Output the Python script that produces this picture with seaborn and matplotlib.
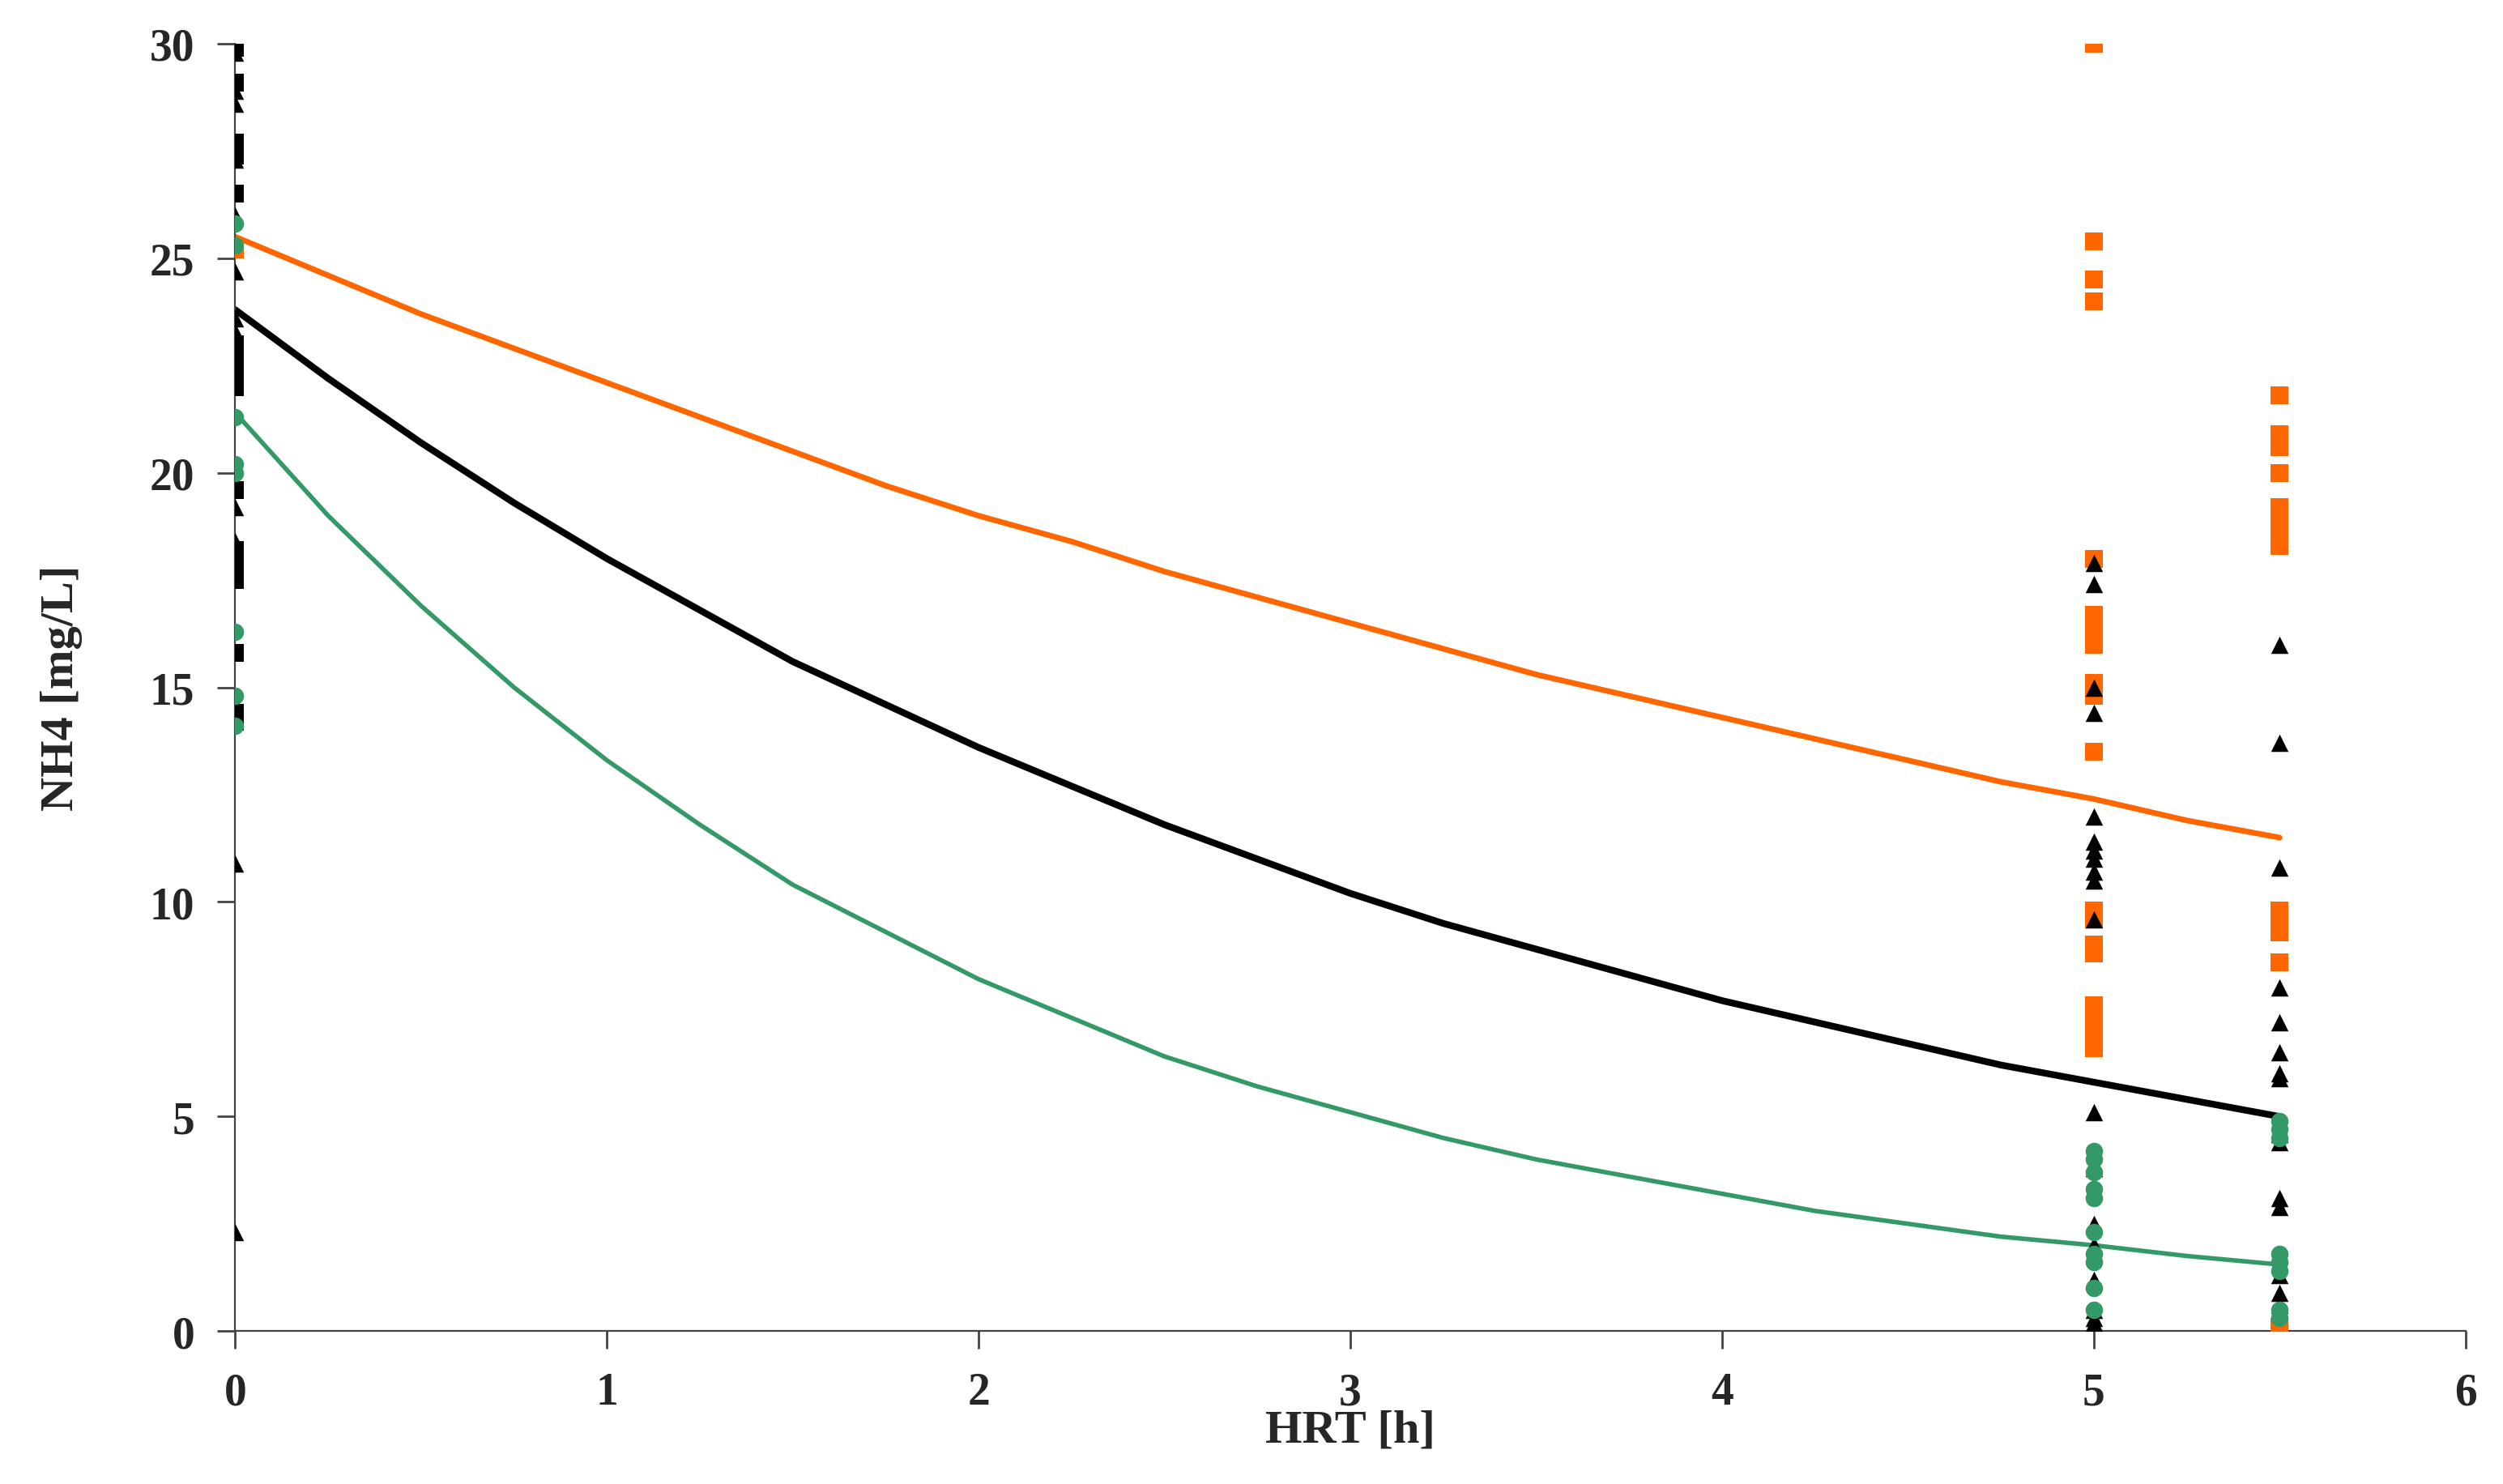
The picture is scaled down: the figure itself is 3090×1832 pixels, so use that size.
import matplotlib
matplotlib.use('Agg')
import matplotlib.pyplot as plt
import seaborn as sns
import pandas as pd

sns.set_style('white')
plt.rcParams['font.family'] = ['Liberation Serif', 'DejaVu Serif']

# fitted curves
curve_x = [0, 0.25, 0.5, 0.75, 1, 1.25, 1.5, 1.75, 2, 2.25, 2.5, 2.75, 3, 3.25, 3.5, 3.75,
           4, 4.25, 4.5, 4.75, 5, 5.25, 5.5]
orange_curve = [25.5, 24.6, 23.7, 22.9, 22.1, 21.3, 20.5, 19.7, 19.0, 18.4, 17.7, 17.1, 16.5, 15.9,
                15.3, 14.8, 14.3, 13.8, 13.3, 12.8, 12.4, 11.9, 11.5]
black_curve = [23.8, 22.2, 20.7, 19.3, 18.0, 16.8, 15.6, 14.6, 13.6, 12.7, 11.8, 11.0, 10.2, 9.5,
               8.9, 8.3, 7.7, 7.2, 6.7, 6.2, 5.8, 5.4, 5.0]
green_curve = [21.4, 19.0, 16.9, 15.0, 13.3, 11.8, 10.4, 9.3, 8.2, 7.3, 6.4, 5.7, 5.1, 4.5,
               4.0, 3.6, 3.2, 2.8, 2.5, 2.2, 2.0, 1.75, 1.55]

# measured points
sq_black_0 = [29.9, 29.1, 27.7, 27.4, 26.5, 23.0, 22.6, 22.2, 22.0, 19.6, 18.2, 17.8, 17.5, 15.8, 14.4, 14.2]
tri_0 = [29.8, 28.9, 28.6, 27.3, 26.0, 24.7, 23.6, 23.3, 19.2, 18.4, 10.9, 2.3]
green_0 = [25.8, 25.3, 21.3, 20.2, 20.0, 16.3, 14.8, 14.1]
orange_0 = [25.2]

orange_5 = [30.0, 25.4, 24.5, 24.0, 18.0, 16.7, 16.3, 16.0, 15.1, 14.8, 13.5, 9.8, 9.6, 9.0, 8.8, 7.6, 7.2, 6.9, 6.6]
tri_5 = [17.9, 17.4, 15.0, 14.4, 12.0, 11.4, 11.2, 11.0, 10.7, 10.5, 9.6, 5.1, 3.8, 2.5, 2.0, 1.2, 0.5, 0.3, 0.2, 0.1]
green_5 = [4.2, 4.0, 3.7, 3.3, 3.1, 2.3, 1.8, 1.6, 1.0, 0.5]

orange_55 = [21.8, 20.9, 20.6, 20.0, 19.2, 18.9, 18.5, 18.3, 9.8, 9.5, 9.3, 8.6, 0.1]
tri_55 = [16.0, 13.7, 10.8, 8.0, 7.2, 6.5, 6.0, 5.9, 4.6, 4.4, 3.1, 2.9, 1.8, 1.3, 0.9, 0.6]
green_55 = [4.9, 4.7, 4.5, 1.8, 1.6, 1.4, 0.5, 0.3]

ORANGE = '#ff6600'
GREEN = '#339966'

fig, ax = plt.subplots(figsize=(15.45, 9.165), dpi=200)

def pts(x, ys):
    return pd.DataFrame({'x': [x] * len(ys), 'y': ys})

sq_black = pts(0, sq_black_0)
tri = pd.concat([pts(0, tri_0), pts(5, tri_5), pts(5.5, tri_55)])
green = pd.concat([pts(0, green_0), pts(5, green_5), pts(5.5, green_55)])
orange = pd.concat([pts(0, orange_0), pts(5, orange_5), pts(5.5, orange_55)])

sns.scatterplot(data=sq_black, x='x', y='y', marker='s', color='black', s=60, linewidth=0, ax=ax, zorder=3)
sns.scatterplot(data=orange, x='x', y='y', marker='s', color=ORANGE, s=60, linewidth=0, ax=ax, zorder=3)
sns.scatterplot(data=tri, x='x', y='y', marker='^', color='black', s=60, linewidth=0, ax=ax, zorder=4)
sns.scatterplot(data=green, x='x', y='y', marker='o', color=GREEN, s=60, linewidth=0, ax=ax, zorder=4)

sns.lineplot(x=curve_x, y=orange_curve, color=ORANGE, lw=2.5, ax=ax, zorder=2)
sns.lineplot(x=curve_x, y=black_curve, color='black', lw=3, ax=ax, zorder=2)
sns.lineplot(x=curve_x, y=green_curve, color=GREEN, lw=2, ax=ax, zorder=2)

ax.set_xlim(0, 6)
ax.set_ylim(0, 30)
ax.set_xticks(range(0, 7))
ax.set_yticks(range(0, 31, 5))
sns.despine(ax=ax)
ax.spines['left'].set_color('#444444')
ax.spines['bottom'].set_color('#444444')
ax.tick_params(axis='both', direction='out', length=8, width=1, color='#444444',
               labelsize=20, pad=10, left=True, bottom=True)
for lab in ax.get_xticklabels() + ax.get_yticklabels():
    lab.set_fontweight('bold')
ax.set_xlabel('HRT [h]', fontsize=21, fontweight='bold', labelpad=-2)
ax.set_ylabel('NH4 [mg/L]', fontsize=21, fontweight='bold', labelpad=30)

plt.subplots_adjust(left=0.094, right=0.985, top=0.97, bottom=0.103)
plt.savefig('out.png', dpi=200)
